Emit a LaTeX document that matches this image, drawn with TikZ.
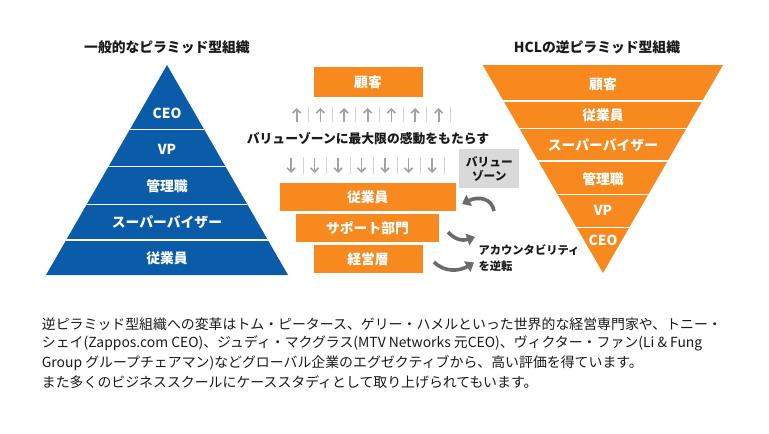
\documentclass[tikz,border=0pt]{standalone}
\usepackage{fontspec}
\setmainfont{Noto Sans CJK JP}
\usetikzlibrary{arrows.meta}
\definecolor{pyrblue}{HTML}{0B5CA8}
\definecolor{hclorange}{HTML}{F7891F}
\definecolor{zonegray}{HTML}{D9D9D9}
\definecolor{arrgray}{HTML}{A3A3A3}
\definecolor{sepgray}{HTML}{D4D4D4}
\definecolor{bendgray}{HTML}{6B6B6B}
\definecolor{ink}{HTML}{1A1A1A}

\begin{document}
\begin{tikzpicture}[x=1pt, y=-1pt,
  band/.style={text=white, font=\bfseries\fontsize{13.8}{16}\selectfont},
  midbox/.style={fill=hclorange, text=white, inner sep=0pt, font=\bfseries\fontsize{13.8}{16}\selectfont},
  heading/.style={text=ink, font=\bfseries\fontsize{13.8}{16}\selectfont},
  bodyline/.style={anchor=west, inner sep=0pt, text=ink, font=\fontsize{13.9}{16}\selectfont},
  uparr/.style={arrgray, line width=1.6pt, -{Straight Barb[length=4pt,width=8pt]}},
  sepline/.style={sepgray, line width=0.8pt},
  bendarr/.style={bendgray, line width=3.6pt, -{Triangle[length=8pt,width=12pt]}}]
\fill[white] (0,0) rectangle (769,434);
\useasboundingbox (0,0) rectangle (769,434);

% left pyramid
\node[heading] (ltitle) at (167,47) {一般的なピラミッド型組織};
\fill[pyrblue] (46,275) -- (167,65) -- (288,275) -- cycle;
\begin{scope}
\clip (46,275) -- (167,65) -- (288,275) -- cycle;
\foreach \y in {129.3,166.7,204.3,240}
  \draw[white, line width=1.2pt] (40,\y) -- (295,\y);
\end{scope}
\node[band] (lceo) at (167,113) {CEO};
\node[band] (lvp) at (167,149) {VP};
\node[band] (lmgr) at (167,186) {管理職};
\node[band] (lsup) at (167,222) {スーパーバイザー};
\node[band] (lemp) at (167,258) {従業員};

% right pyramid
\node[heading] (rtitle) at (597,47) {HCLの逆ピラミッド型組織};
\fill[hclorange] (482.7,65) -- (723,65) -- (603,273) -- cycle;
\begin{scope}
\clip (482.7,65) -- (723,65) -- (603,273) -- cycle;
\foreach \y in {101,128.7,161,194.3,227.3}
  \draw[white, line width=1.2pt] (475,\y) -- (730,\y);
\end{scope}
\node[band] (rcust) at (603,84) {顧客};
\node[band] (remp) at (603,115) {従業員};
\node[band] (rsup) at (603,145) {スーパーバイザー};
\node[band] (rmgr) at (603,179) {管理職};
\node[band] (rvp) at (603,210.7) {VP};
\node[band] (rceo) at (603,240.7) {CEO};

% middle
\node[midbox, minimum width=109pt, minimum height=29.4pt] (cust) at (368,82) {顧客};
\node[midbox, minimum width=175.7pt, minimum height=27.7pt] (emp) at (367.8,197) {従業員};
\node[midbox, minimum width=143pt, minimum height=27.7pt] (supp) at (367.5,228) {サポート部門};
\node[midbox, minimum width=109pt, minimum height=28.3pt] (exec) at (368,259) {経営層};

\foreach \x in {296.7,320.3,344,367.7,391.3,415,438.7} {
  \draw[uparr] (\x,122) -- (\x,108);
  \draw[sepline] (\x+11.7,106.5) -- (\x+11.7,122);
}
\node[text=ink, font=\bfseries\fontsize{12.8}{15}\selectfont] (zonetxt) at (368,138.3) {バリューゾーンに最大限の感動をもたらす};
\foreach \x in {291,314.5,338,361.5,385,408.5,432} {
  \draw[uparr] (\x,158) -- (\x,173);
  \draw[sepline] (\x+12,157) -- (\x+12,174);
}

\node[fill=zonegray, minimum width=60pt, minimum height=39pt, inner sep=0pt, align=center,
  text=ink, font=\bfseries\fontsize{11.7}{14.3}\selectfont] (zone) at (489.3,168.8) {バリュー\\ゾーン};

\node[anchor=west, inner sep=0pt, align=left, text=ink,
  font=\bfseries\fontsize{11.3}{16}\selectfont] (acct) at (478.3,258) {アカウンタビリティ\\を逆転};

\coordinate (b1s) at (494,211);
\coordinate (b1e) at (462,204);
\draw[bendarr] (b1s) .. controls (492,198) and (478,196) .. (b1e);
\coordinate (b2s) at (448,232);
\coordinate (b2e) at (475,237);
\draw[bendarr] (b2s) .. controls (455,240) and (463,241) .. (b2e);
\coordinate (b3s) at (434,262);
\coordinate (b3e) at (474,262.5);
\draw[bendarr] (b3s) .. controls (445,273) and (460,271) .. (b3e);

% text below
\node[bodyline] (body1) at (41.7,324) {逆ピラミッド型組織への変革はトム・ピータース、ゲリー・ハメルといった世界的な経営専門家や、トニー・};
\node[bodyline] (body2) at (41.7,343.3) {シェイ(Zappos.com CEO)、ジュディ・マクグラス(MTV Networks 元CEO)、ヴィクター・ファン(Li \& Fung};
\node[bodyline] (body3) at (41.7,362.7) {Group グループチェアマン)などグローバル企業のエグゼクティブから、高い評価を得ています。};
\node[bodyline] (body4) at (41.7,381.7) {また多くのビジネススクールにケーススタディとして取り上げられてもいます。};
\end{tikzpicture}
\end{document}
